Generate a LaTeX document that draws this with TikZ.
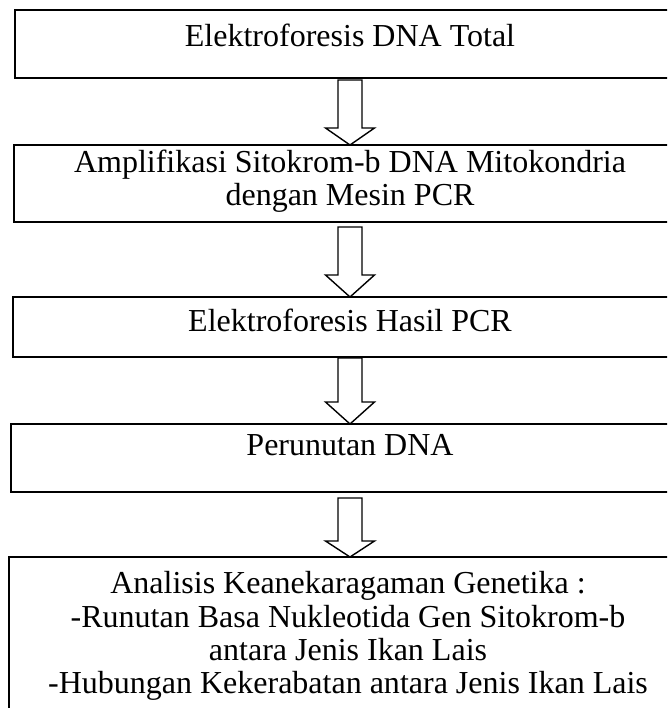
\documentclass[tikz,border=0pt]{standalone}
\usepackage{fontspec}
\setmainfont{Liberation Serif}
\usetikzlibrary{calc}
\tikzset{
  box/.style={draw=black, line width=1.6pt, rectangle, inner sep=0pt, outer sep=0pt,
              minimum width=674pt, anchor=north west},
  txt/.style={inner sep=0pt, anchor=base, font=\fontsize{32}{34}\selectfont},
  arr/.style={draw=black, line width=1.4pt, line join=miter, fill=white}
}
\newcommand\blockarr[4]{% from, to, head length, shaft top gap
  \draw[arr] let \p1=(#1.south), \p2=(#2.north) in
    (350pt-12pt,\y1-#4) -- (350pt-12pt,\y2+#3) -- (350pt-24.5pt,\y2+#3) -- (350pt,\y2)
    -- (350pt+24.5pt,\y2+#3) -- (350pt+12pt,\y2+#3) -- (350pt+12pt,\y1-#4) -- cycle;}
\begin{document}
\begin{tikzpicture}[x=1pt,y=1pt]
\useasboundingbox (0,0) rectangle (667,-708);
\clip (0,0) rectangle (667,-708);
\fill[white] (0,0) rectangle (667,-708);
% boxes
\node[box, minimum height=68pt] (b1) at (15,-10) {};
\node[box, minimum height=77pt] (b2) at (14,-145) {};
\node[box, minimum height=60pt] (b3) at (13,-297) {};
\node[box, minimum height=68pt] (b4) at (11,-424) {};
\node[box, minimum height=180pt] (b5) at (9,-557) {};
% texts
\node[txt] (t1) at (350,-47) {Elektroforesis DNA Total};
\node[txt] (t2a) at (350,-173) {Amplifikasi Sitokrom-b DNA Mitokondria};
\node[txt] (t2b) at (350,-206) {dengan Mesin PCR};
\node[txt] (t3) at (350,-331) {Elektroforesis Hasil PCR};
\node[txt] (t4) at (350,-455) {Perunutan DNA};
\node[txt] (t5a) at (348,-593) {Analisis Keanekaragaman Genetika :};
\node[txt] (t5b) at (348,-627) {-Runutan Basa Nukleotida Gen Sitokrom-b};
\node[txt] (t5c) at (348,-660) {antara Jenis Ikan Lais};
\node[txt] (t5d) at (348,-693) {-Hubungan Kekerabatan antara Jenis Ikan Lais};
% block arrows
\blockarr{b1}{b2}{17pt}{2pt}
\blockarr{b2}{b3}{22pt}{5pt}
\blockarr{b3}{b4}{22pt}{1pt}
\blockarr{b4}{b5}{16pt}{6pt}
\end{tikzpicture}
\end{document}
